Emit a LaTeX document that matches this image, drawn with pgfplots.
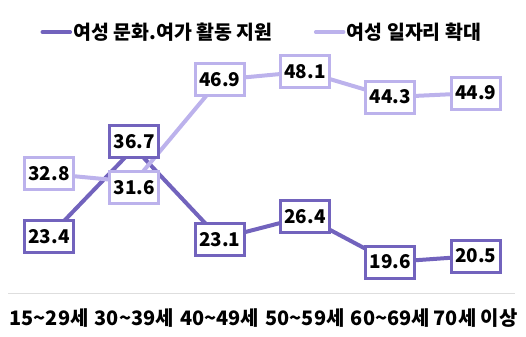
\documentclass[border=0pt]{standalone}
\usepackage{fontspec}
\setmainfont{Noto Sans CJK KR}
\usepackage{pgfplots}
\pgfplotsset{compat=1.18}
\usepackage{pgfplotstable}
\definecolor{dk}{HTML}{7263BD}
\definecolor{lt}{HTML}{BCB2EC}

\pgfplotstableread{
x y dy lab
0 23.4 0 23.4
1 36.7 6 36.7
2 23.1 -1 23.1
3 26.4 0 26.4
4 19.6 0 19.6
5 20.5 0 20.5
}\darkdata

\pgfplotstableread{
x y dy lab
0 32.8 0 32.8
1 31.6 -6 31.6
2 46.9 0 46.9
3 48.1 0 48.1
4 44.3 0 44.3
5 44.9 0 44.9
}\lightdata

\begin{document}
\begin{tikzpicture}
\path[use as bounding box] (-8bp,-44bp) rectangle (518bp,293bp);
\begin{axis}[
  scale only axis,
  width=507bp, height=248bp,
  xmin=-0.48, xmax=5.46,
  ymin=14.96, ymax=52.1,
  axis y line=none,
  axis x line*=bottom,
  x axis line style={draw=black!13, line width=1bp},
  xtick={0,1,2,3,4,5},
  xticklabels={15\textasciitilde 29세, 30\textasciitilde 39세, 40\textasciitilde 49세, 50\textasciitilde 59세, 60\textasciitilde 69세, 70세 이상},
  major tick length=0pt,
  xticklabel style={font=\bfseries\fontsize{20}{20}\selectfont, anchor=base, yshift=-32bp, text=black},
  clip=false,
  legend columns=2,
  legend style={draw=none, fill=none, at={(0.5,1.052)}, anchor=center,
    font=\bfseries\fontsize{19.5}{19.5}\selectfont,
    nodes={inner sep=1.5bp},
    /tikz/every even column/.append style={column sep=40bp}},
  legend image code/.code={\draw[#1, line width=3.5bp, line cap=round] (0bp,0bp) -- (28bp,0bp);},
]
\addplot[dk, line width=4bp] table[x=x, y=y] {\darkdata};
\addlegendentry{여성 문화.여가 활동 지원}
\addplot[lt, line width=4bp] table[x=x, y=y] {\lightdata};
\addlegendentry{여성 일자리 확대}

\addplot[draw=none, forget plot, point meta=explicit symbolic,
  visualization depends on={\thisrow{dy} \as \dy},
  nodes near coords,
  every node near coord/.append style={anchor=center, yshift=\dy bp, draw=dk, line width=3bp, fill=white, text=black,
    minimum width=49bp, minimum height=32bp, inner sep=0pt, font=\bfseries\fontsize{19}{19}\selectfont}]
  table[x=x, y=y, meta=lab] {\darkdata};
\addplot[draw=none, forget plot, point meta=explicit symbolic,
  visualization depends on={\thisrow{dy} \as \dy},
  nodes near coords,
  every node near coord/.append style={anchor=center, yshift=\dy bp, draw=lt, line width=3bp, fill=white, text=black,
    minimum width=49bp, minimum height=32bp, inner sep=0pt, font=\bfseries\fontsize{19}{19}\selectfont}]
  table[x=x, y=y, meta=lab] {\lightdata};
\end{axis}
\end{tikzpicture}
\end{document}
